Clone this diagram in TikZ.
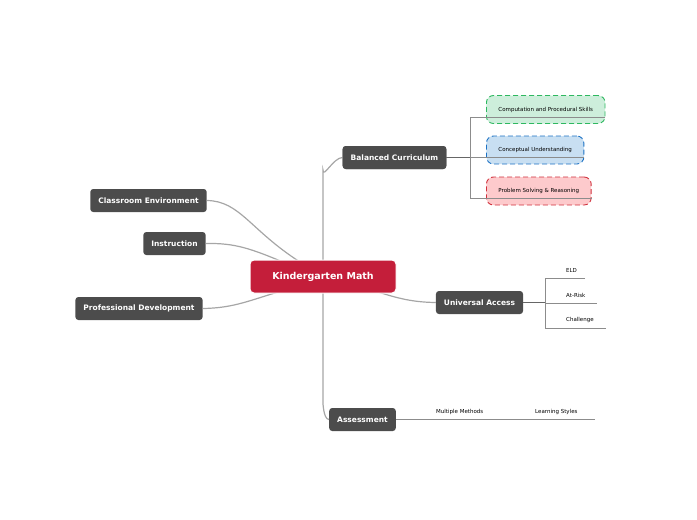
\documentclass[tikz,border=0pt]{standalone}
\usepackage{fontspec}
\setmainfont{DejaVu Sans}
\begin{document}
\begin{tikzpicture}[x=1pt,y=-1pt,
 topic/.style={draw=none,fill=black!70,rounded corners=3pt,text=white,font=\bfseries\fontsize{7.5}{9}\selectfont,minimum height=23pt,inner xsep=8pt},
 sub/.style={rounded corners=7pt,dashed,dash pattern=on 5pt off 3pt,line width=0.9pt,minimum height=28pt,font=\fontsize{5.5}{7}\selectfont,anchor=west,inner xsep=12pt},
 lbl/.style={font=\fontsize{5.5}{7}\selectfont,anchor=west,inner sep=0pt},
 br/.style={draw=black!45,line width=0.8pt},
 conn/.style={draw=black!35,line width=1.2pt}]
\useasboundingbox (0,0) rectangle (697,520);
\definecolor{crim}{HTML}{C41E3A}
% connectors
\coordinate (c) at (323,276);
\node[topic] (bc) at (394.5,157.5) {Balanced Curriculum};
\node[topic] (ce) at (148.5,200.5) {Classroom Environment};
\node[topic] (in) at (174.5,243.5) {Instruction};
\node[topic] (pd) at (139,308.5) {Professional Development};
\node[topic] (ua) at (479.5,302.5) {Universal Access};
\node[topic] (as) at (362.5,419.5) {Assessment};
\draw[conn] (c) -- (323,170) to[out=-90,in=180] (bc.west);
\draw[conn] (c) -- (323,405) to[out=90,in=180] (as.west);
\draw[conn] (c) .. controls (380,290) and (395,302) .. (ua.west);
\draw[conn] (300,262) .. controls (250,230) and (240,201) .. (ce.east);
\draw[conn] (290,265) .. controls (250,248) and (235,243) .. (in.east);
\draw[conn] (285,290) .. controls (250,300) and (235,308) .. (pd.east);
\node[draw=white,line width=1pt,fill=crim,rounded corners=4pt,text=white,font=\bfseries\fontsize{9.5}{11}\selectfont,minimum width=146pt,minimum height=33pt] (km) at (323,276.5) {Kindergarten Math};
\node[topic] at (bc) {Balanced Curriculum};
% balanced curriculum subtopics
\node[sub,draw={rgb,255:red,46;green,184;blue,96},fill={rgb,255:red,205;green,238;blue,219}] (s1) at (486,109.5) {Computation and Procedural Skills};
\node[sub,draw={rgb,255:red,29;green,114;blue,196},fill={rgb,255:red,200;green,223;blue,242}] (s2) at (486,150) {Conceptual Understanding};
\node[sub,draw={rgb,255:red,208;green,48;blue,60},fill={rgb,255:red,253;green,202;blue,204}] (s3) at (486,191) {Problem Solving \& Reasoning};
\draw[br,line width=1.2pt,black!60] (bc.east) -- (470,157.5);
\draw[br] (s1.south east|-0,117) -- (470,117) -- (470,198) -- (s3.south east|-0,198);
\draw[br] (470,157.5) -- (s2.south east|-0,157.5);
% universal access
\node[lbl] (e1) at (566,270) {ELD};
\node[lbl] (e2) at (566,295) {At-Risk};
\node[lbl] (e3) at (566,320) {Challenge};
\draw[br,line width=1.2pt,black!60] (ua.east) -- (545,302.5);
\draw[br] (585,278) -- (545,278) -- (545,328) -- (606,328);
\draw[br] (545,303) -- (597,303);
% assessment
\node[lbl] (m1) at (436,412) {Multiple Methods};
\node[lbl] (m2) at (535,412) {Learning Styles};
\draw[br] (as.east) -- (595,419.5);
\end{tikzpicture}
\end{document}
